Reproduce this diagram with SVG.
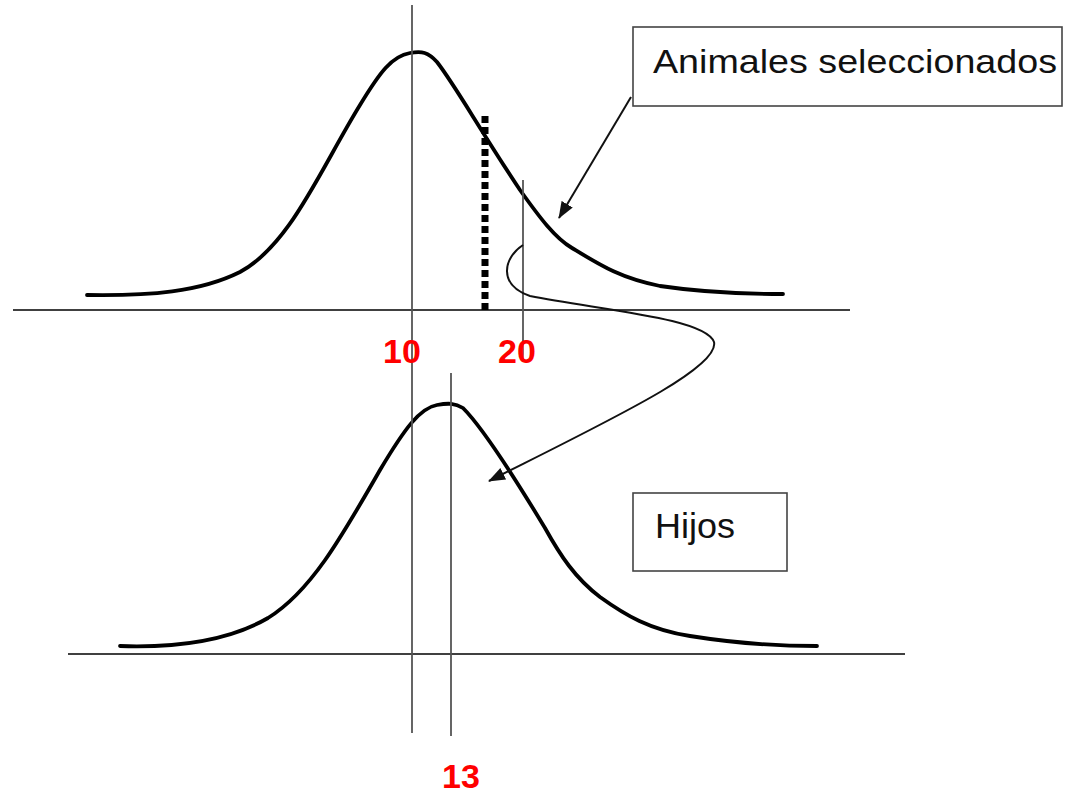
<svg xmlns="http://www.w3.org/2000/svg" width="1065" height="795" viewBox="0 0 1065 795">
  <style>
    .axis { stroke: #000; stroke-width: 1.6; fill: none; }
    .vline { stroke: #555; stroke-width: 1.8; fill: none; }
    .curve { stroke: #000; stroke-width: 3.8; fill: none; stroke-linecap: round; stroke-linejoin: round; }
    .conn { stroke: #111; stroke-width: 2; fill: none; }
    .box { fill: #fff; stroke: #444; stroke-width: 1.6; }
    .lbl { font-family: "Liberation Sans", Arial, sans-serif; fill: #111; }
    .num { font-family: "Liberation Sans", Arial, sans-serif; font-weight: bold; font-size: 34px; fill: #ff0000; text-anchor: middle; }
  </style>
  <defs>
    <marker id="arrowL" viewBox="0 0 17 13" refX="16" refY="6.5" markerWidth="17" markerHeight="13" markerUnits="userSpaceOnUse" orient="auto">
      <path d="M0,0 L17,6.5 L0,13 z" fill="#111"/>
    </marker>
  </defs>
  <rect width="1065" height="795" fill="#fff"/>

  <g id="axes">
    <line class="axis" x1="13" y1="310" x2="850" y2="310"/>
    <line class="axis" x1="68" y1="654" x2="905" y2="654"/>
  </g>

  <g id="parents-curve">
    <path class="curve" d="M87,295 C150,296 200,292 240,272 C290,245 320,170 360,105 C380,72 392,56 410,53 C422,51 428,52 437,62 C455,85 480,130 520,190 C540,218 555,238 572,248 C600,265 620,278 660,286 C700,292 740,294 783,294"/>
  </g>

  <g id="offspring-curve">
    <path class="curve" d="M120,646 C180,648 230,640 268,618 C310,592 340,540 380,470 C405,428 420,408 437,405 C448,403 455,403 463,408 C480,425 510,470 545,528 C560,555 575,578 600,597 C625,615 650,630 690,636 C740,644 780,646 817,646"/>
  </g>

  <g id="reference-lines">
    <line class="vline" x1="412" y1="5" x2="412" y2="733"/>
    <line class="vline" x1="451" y1="373" x2="451" y2="736"/>
    <line class="vline" x1="523" y1="180" x2="523" y2="360"/>
  </g>

  <g id="truncation-point">
    <line x1="485" y1="116" x2="485" y2="312" stroke="#000" stroke-width="7" stroke-dasharray="7 4"/>
  </g>

  <g id="label-10"><text class="num" x="402" y="363">10</text></g>
  <g id="label-20"><text class="num" x="517" y="363">20</text></g>
  <g id="label-13"><text class="num" x="461" y="788">13</text></g>

  <g id="animales-seleccionados">
    <rect class="box" x="633" y="27" width="429" height="79"/>
    <text class="lbl" x="653" y="73" font-size="34" textLength="404" lengthAdjust="spacingAndGlyphs">Animales seleccionados</text>
  </g>

  <g id="hijos">
    <rect class="box" x="633" y="493" width="154" height="78"/>
    <text class="lbl" x="655" y="538" font-size="35" textLength="80" lengthAdjust="spacingAndGlyphs">Hijos</text>
  </g>

  <g id="connectors">
    <line class="conn" x1="631" y1="97" x2="559" y2="218" marker-end="url(#arrowL)"/>
    <path class="conn" d="M523,245 C503,258 498,285 530,296 C600,310 705,318 714,342 C720,368 610,420 489,481" marker-end="url(#arrowL)"/>
  </g>
</svg>
